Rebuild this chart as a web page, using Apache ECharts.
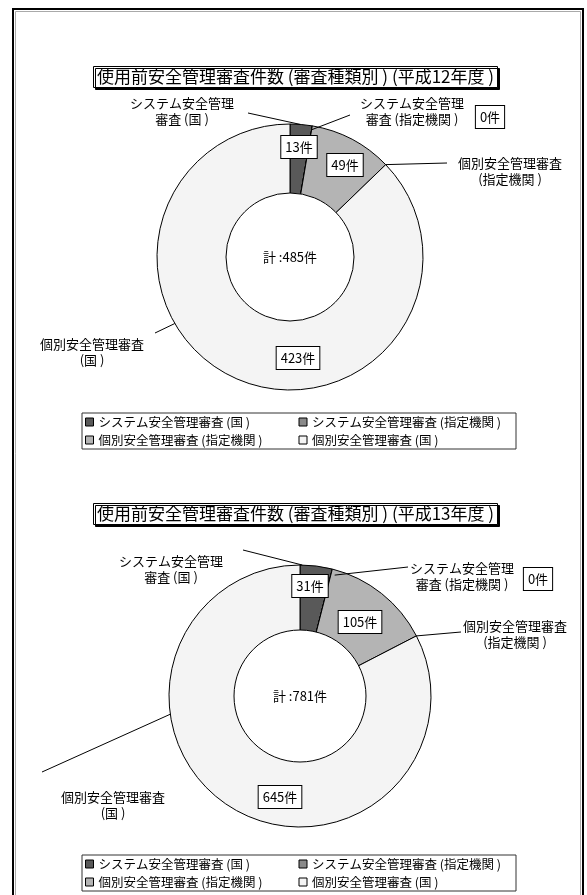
<!DOCTYPE html>
<html>
<head>
<meta charset="utf-8">
<script src="https://cdn.jsdelivr.net/npm/echarts@6/dist/echarts.min.js"></script>
<style>
  html, body { margin: 0; padding: 0; background: #fff; }
  #main { width: 587px; height: 895px; }
</style>
</head>
<body>
<div id="main"></div>
<script>
// Review categories (legend names) and their short two-line labels
const categories = [
  'システム安全管理審査 (国 )',
  'システム安全管理審査 (指定機関 )',
  '個別安全管理審査 (指定機関 )',
  '個別安全管理審査 (国 )'
];
const shortLabels = [
  'システム安全管理\n審査 (国 )',
  'システム安全管理\n審査 (指定機関 )',
  '個別安全管理審査\n(指定機関 )',
  '個別安全管理審査\n(国 )'
];
// Number of reviews per fiscal year
const valuesH12 = [13, 0, 49, 423];
const valuesH13 = [31, 0, 105, 645];
const titles = [
  '使用前安全管理審査件数 (審査種類別 ) (平成12年度 )',
  '使用前安全管理審査件数 (審査種類別 ) (平成13年度 )'
];
const sliceColors = ['#595959', '#8a8a8a', '#b4b4b4', '#f4f4f4'];

const FONT = '"Noto Sans CJK JP", "Noto Sans", sans-serif';
const dataSets = [valuesH12, valuesH13];

// Placement of each doughnut, its labels and leader lines
// (leader: label-side end point, angle on the ring in degrees clockwise from 12 o'clock, radius fraction)
const layouts = [
  { center: [290, 257], radius: 133, hole: 64,
    title: { left: 93, top: 66 }, legendTop: 413,
    valuePos: [[299, 147], [490, 117], [345, 165], [298, 358]],
    namePos: [[182, 111], [412, 111], [510, 171], [92, 352]],
    leaders: [[[248, 113], 4.3, 1], [[350, 115], 9.6, 0.97], [[447, 163], 46, 1], [[155, 333], 240, 1]] },
  { center: [300, 696], radius: 131, hole: 66,
    title: { left: 93, top: 503 }, legendTop: 855,
    valuePos: [[310, 586], [538, 579], [360, 622], [280, 797]],
    namePos: [[171, 569], [462, 576], [515, 634], [113, 805]],
    leaders: [[[243, 550], 1, 1], [[408, 567], 16, 0.96], [[461, 632], 62.7, 1], [[42, 772], 262, 1]] }
];

function ringPoint(L, angle, frac) {
  const a = angle * Math.PI / 180;
  const r = L.radius * frac;
  return [L.center[0] + r * Math.sin(a), L.center[1] - r * Math.cos(a)];
}

const series = [];
const graphics = [
  { type: 'rect', silent: true, shape: { x: 13, y: 9, width: 570, height: 900 },
    style: { fill: 'none', stroke: '#000', lineWidth: 2 } },
  { type: 'rect', silent: true, shape: { x: 15.5, y: 11.5, width: 565, height: 900 },
    style: { fill: 'none', stroke: '#aaa', lineWidth: 1 } }
];

layouts.forEach((L, k) => {
  const vals = dataSets[k];
  const total = vals.reduce((a, b) => a + b, 0);
  const items = categories.map((c, i) => ({ name: c, value: vals[i] }));
  const base = {
    type: 'pie', center: L.center, radius: [0, L.radius],
    startAngle: 90, clockwise: true, avoidLabelOverlap: false,
    silent: true, animation: false, emphasis: { disabled: true }
  };
  // filled slices
  series.push(Object.assign({}, base, {
    itemStyle: { borderColor: '#000', borderWidth: 1 },
    label: { show: false }, labelLine: { show: false },
    data: items.map((d, i) => ({ name: d.name, value: d.value, itemStyle: { color: sliceColors[i] } }))
  }));
  // centre disc with the total
  series.push({
    type: 'pie', center: L.center, radius: [0, L.hole], silent: true, animation: false,
    emphasis: { disabled: true },
    itemStyle: { color: '#fff', borderColor: '#000', borderWidth: 1 },
    label: { show: true, position: 'center', formatter: '計 :' + total + '件',
      color: '#000', fontSize: 13, fontFamily: FONT },
    labelLine: { show: false },
    data: [{ name: '計', value: total }]
  });
  // value boxes
  series.push(Object.assign({}, base, {
    itemStyle: { color: 'rgba(0,0,0,0)', borderWidth: 0 },
    label: { show: true, position: 'inside', formatter: '{c}件', color: '#000',
      fontSize: 13, fontFamily: FONT, backgroundColor: '#fff',
      borderColor: '#000', borderWidth: 1, padding: [5, 4, 4, 4] },
    labelLine: { show: false },
    labelLayout: p => ({ x: L.valuePos[p.dataIndex][0], y: L.valuePos[p.dataIndex][1],
      align: 'center', verticalAlign: 'middle' }),
    data: items
  }));
  // category names
  series.push(Object.assign({}, base, {
    itemStyle: { color: 'rgba(0,0,0,0)', borderWidth: 0 },
    label: { show: true, position: 'outside', formatter: p => shortLabels[p.dataIndex],
      color: '#000', fontSize: 13, lineHeight: 16, fontFamily: FONT, align: 'center' },
    labelLine: { show: false },
    labelLayout: p => ({ x: L.namePos[p.dataIndex][0], y: L.namePos[p.dataIndex][1],
      align: 'center', verticalAlign: 'middle' }),
    data: items
  }));
  // leader lines from each name to the ring
  L.leaders.forEach(([from, angle, frac]) => {
    const to = ringPoint(L, angle, frac);
    graphics.push({ type: 'line', silent: true, z: 10,
      shape: { x1: from[0], y1: from[1], x2: to[0], y2: to[1] },
      style: { stroke: '#000', lineWidth: 1 } });
  });
});

const chart = echarts.init(document.getElementById('main'), null, { renderer: 'canvas' });
chart.setOption({
  animation: false,
  backgroundColor: '#fff',
  title: layouts.map((L, k) => ({
    text: titles[k], left: L.title.left, top: L.title.top,
    padding: [2, 4, 2, 4], borderColor: '#000', borderWidth: 1, backgroundColor: '#fff',
    shadowColor: '#000', shadowOffsetX: 2, shadowOffsetY: 2, shadowBlur: 0,
    textStyle: { fontSize: 17, lineHeight: 18, fontWeight: 'normal', color: '#000', fontFamily: FONT }
  })),
  legend: layouts.map(L => ({
    data: categories, left: 82, top: L.legendTop, width: 440, orient: 'horizontal',
    icon: 'rect', itemWidth: 8, itemHeight: 8, itemGap: 4,
    padding: [2, 8, 2, 3], borderColor: '#333', borderWidth: 1,
    selectedMode: false,
    textStyle: { fontSize: 12.5, fontFamily: FONT, color: '#000', width: 196, lineHeight: 14 },
    itemStyle: { borderColor: '#000', borderWidth: 1 }
  })),
  graphic: graphics,
  series: series
});
</script>
</body>
</html>
